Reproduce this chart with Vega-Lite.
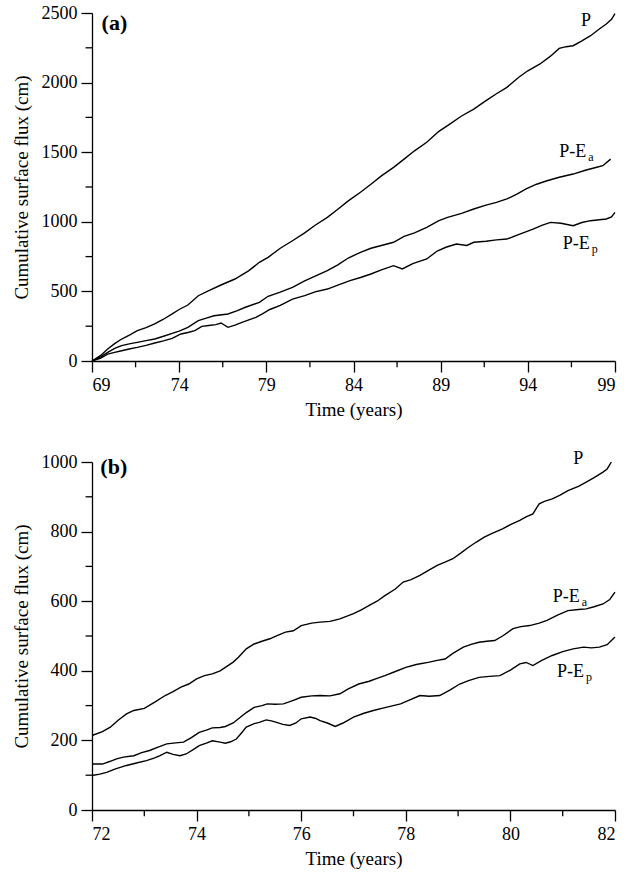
{
  "$schema": "https://vega.github.io/schema/vega-lite/v6.json",
  "padding": {"left": 12, "top": 4, "right": 5, "bottom": 5},
  "background": "white",
  "spacing": 30,
  "config": {
    "font": "Liberation Serif",
    "view": {"stroke": null},
    "axis": {
      "grid": false,
      "domainColor": "black",
      "domainWidth": 1.3,
      "tickColor": "black",
      "tickWidth": 1.3,
      "labelColor": "black",
      "titleColor": "black",
      "labelFont": "Liberation Serif",
      "titleFont": "Liberation Serif",
      "labelFontSize": 18,
      "titleFontSize": 19,
      "titleFontWeight": "normal",
      "labelPadding": 4
    }
  },
  "datasets": {
    "one": [{"k": 1}],
    "minorXa": [{"t": 71.5}, {"t": 76.5}, {"t": 81.5}, {"t": 86.5}, {"t": 91.5}, {"t": 96.5}],
    "minorYa": [{"v": 250}, {"v": 750}, {"v": 1250}, {"v": 1750}, {"v": 2250}],
    "minorXb": [{"t": 73}, {"t": 75}, {"t": 77}, {"t": 79}, {"t": 81}],
    "minorYb": [{"v": 100}, {"v": 300}, {"v": 500}, {"v": 700}, {"v": 900}],
    "a": [
      {"s": "P", "t": 69.0, "v": 0}, {"s": "P", "t": 69.5, "v": 40}, {"s": "P", "t": 69.9, "v": 86}, {"s": "P", "t": 70.3, "v": 125}, {"s": "P", "t": 70.7, "v": 158}, {"s": "P", "t": 71.2, "v": 190}, {"s": "P", "t": 71.6, "v": 218}, {"s": "P", "t": 72.1, "v": 240}, {"s": "P", "t": 72.6, "v": 266}, {"s": "P", "t": 73.1, "v": 300}, {"s": "P", "t": 73.6, "v": 338}, {"s": "P", "t": 74.0, "v": 370}, {"s": "P", "t": 74.5, "v": 402}, {"s": "P", "t": 75.1, "v": 469}, {"s": "P", "t": 75.7, "v": 505}, {"s": "P", "t": 76.4, "v": 546}, {"s": "P", "t": 77.2, "v": 589}, {"s": "P", "t": 78.0, "v": 649}, {"s": "P", "t": 78.6, "v": 709}, {"s": "P", "t": 79.1, "v": 745}, {"s": "P", "t": 79.8, "v": 810}, {"s": "P", "t": 80.5, "v": 864}, {"s": "P", "t": 81.2, "v": 920}, {"s": "P", "t": 81.8, "v": 975}, {"s": "P", "t": 82.5, "v": 1032}, {"s": "P", "t": 83.1, "v": 1090}, {"s": "P", "t": 83.7, "v": 1150}, {"s": "P", "t": 84.4, "v": 1212}, {"s": "P", "t": 85.0, "v": 1270}, {"s": "P", "t": 85.6, "v": 1330}, {"s": "P", "t": 86.3, "v": 1391}, {"s": "P", "t": 86.9, "v": 1450}, {"s": "P", "t": 87.5, "v": 1510}, {"s": "P", "t": 88.2, "v": 1571}, {"s": "P", "t": 88.9, "v": 1650}, {"s": "P", "t": 89.5, "v": 1700}, {"s": "P", "t": 90.2, "v": 1760}, {"s": "P", "t": 90.9, "v": 1810}, {"s": "P", "t": 91.6, "v": 1870}, {"s": "P", "t": 92.2, "v": 1920}, {"s": "P", "t": 92.8, "v": 1966}, {"s": "P", "t": 93.5, "v": 2040}, {"s": "P", "t": 94.0, "v": 2085}, {"s": "P", "t": 94.7, "v": 2134}, {"s": "P", "t": 95.3, "v": 2190}, {"s": "P", "t": 95.8, "v": 2246}, {"s": "P", "t": 96.2, "v": 2258}, {"s": "P", "t": 96.6, "v": 2265}, {"s": "P", "t": 97.1, "v": 2300}, {"s": "P", "t": 97.6, "v": 2337}, {"s": "P", "t": 98.1, "v": 2385}, {"s": "P", "t": 98.5, "v": 2421}, {"s": "P", "t": 98.8, "v": 2455}, {"s": "P", "t": 99.0, "v": 2495},
      {"s": "Ea", "t": 69.0, "v": 0}, {"s": "Ea", "t": 69.5, "v": 30}, {"s": "Ea", "t": 69.9, "v": 62}, {"s": "Ea", "t": 70.3, "v": 90}, {"s": "Ea", "t": 70.7, "v": 110}, {"s": "Ea", "t": 71.2, "v": 125}, {"s": "Ea", "t": 71.6, "v": 134}, {"s": "Ea", "t": 72.1, "v": 146}, {"s": "Ea", "t": 72.6, "v": 158}, {"s": "Ea", "t": 73.1, "v": 178}, {"s": "Ea", "t": 73.6, "v": 199}, {"s": "Ea", "t": 74.0, "v": 215}, {"s": "Ea", "t": 74.5, "v": 242}, {"s": "Ea", "t": 75.1, "v": 290}, {"s": "Ea", "t": 75.6, "v": 310}, {"s": "Ea", "t": 76.0, "v": 325}, {"s": "Ea", "t": 76.8, "v": 338}, {"s": "Ea", "t": 77.3, "v": 360}, {"s": "Ea", "t": 77.8, "v": 386}, {"s": "Ea", "t": 78.6, "v": 421}, {"s": "Ea", "t": 79.1, "v": 465}, {"s": "Ea", "t": 79.8, "v": 495}, {"s": "Ea", "t": 80.5, "v": 529}, {"s": "Ea", "t": 81.2, "v": 575}, {"s": "Ea", "t": 81.8, "v": 610}, {"s": "Ea", "t": 82.5, "v": 649}, {"s": "Ea", "t": 83.1, "v": 690}, {"s": "Ea", "t": 83.7, "v": 740}, {"s": "Ea", "t": 84.4, "v": 781}, {"s": "Ea", "t": 85.0, "v": 810}, {"s": "Ea", "t": 85.6, "v": 830}, {"s": "Ea", "t": 86.3, "v": 853}, {"s": "Ea", "t": 86.9, "v": 895}, {"s": "Ea", "t": 87.5, "v": 920}, {"s": "Ea", "t": 88.2, "v": 960}, {"s": "Ea", "t": 88.9, "v": 1008}, {"s": "Ea", "t": 89.4, "v": 1032}, {"s": "Ea", "t": 90.2, "v": 1060}, {"s": "Ea", "t": 90.9, "v": 1092}, {"s": "Ea", "t": 91.6, "v": 1120}, {"s": "Ea", "t": 92.2, "v": 1140}, {"s": "Ea", "t": 92.8, "v": 1164}, {"s": "Ea", "t": 93.4, "v": 1200}, {"s": "Ea", "t": 93.9, "v": 1236}, {"s": "Ea", "t": 94.5, "v": 1270}, {"s": "Ea", "t": 95.1, "v": 1295}, {"s": "Ea", "t": 95.8, "v": 1320}, {"s": "Ea", "t": 96.6, "v": 1343}, {"s": "Ea", "t": 97.3, "v": 1370}, {"s": "Ea", "t": 97.9, "v": 1390}, {"s": "Ea", "t": 98.3, "v": 1403}, {"s": "Ea", "t": 98.75, "v": 1450},
      {"s": "Ep", "t": 69.0, "v": 0}, {"s": "Ep", "t": 69.5, "v": 20}, {"s": "Ep", "t": 69.9, "v": 50}, {"s": "Ep", "t": 70.3, "v": 62}, {"s": "Ep", "t": 70.7, "v": 74}, {"s": "Ep", "t": 71.2, "v": 88}, {"s": "Ep", "t": 71.6, "v": 98}, {"s": "Ep", "t": 72.1, "v": 112}, {"s": "Ep", "t": 72.6, "v": 129}, {"s": "Ep", "t": 73.1, "v": 145}, {"s": "Ep", "t": 73.6, "v": 163}, {"s": "Ep", "t": 74.1, "v": 194}, {"s": "Ep", "t": 74.5, "v": 205}, {"s": "Ep", "t": 74.9, "v": 218}, {"s": "Ep", "t": 75.3, "v": 249}, {"s": "Ep", "t": 75.7, "v": 255}, {"s": "Ep", "t": 76.1, "v": 261}, {"s": "Ep", "t": 76.4, "v": 273}, {"s": "Ep", "t": 76.8, "v": 242}, {"s": "Ep", "t": 77.2, "v": 258}, {"s": "Ep", "t": 77.6, "v": 278}, {"s": "Ep", "t": 78.0, "v": 296}, {"s": "Ep", "t": 78.4, "v": 314}, {"s": "Ep", "t": 78.8, "v": 340}, {"s": "Ep", "t": 79.2, "v": 370}, {"s": "Ep", "t": 79.8, "v": 400}, {"s": "Ep", "t": 80.5, "v": 445}, {"s": "Ep", "t": 81.2, "v": 470}, {"s": "Ep", "t": 81.8, "v": 497}, {"s": "Ep", "t": 82.5, "v": 517}, {"s": "Ep", "t": 83.1, "v": 545}, {"s": "Ep", "t": 83.8, "v": 577}, {"s": "Ep", "t": 84.4, "v": 600}, {"s": "Ep", "t": 85.0, "v": 625}, {"s": "Ep", "t": 85.6, "v": 655}, {"s": "Ep", "t": 86.3, "v": 685}, {"s": "Ep", "t": 86.8, "v": 661}, {"s": "Ep", "t": 87.4, "v": 700}, {"s": "Ep", "t": 88.2, "v": 733}, {"s": "Ep", "t": 88.8, "v": 790}, {"s": "Ep", "t": 89.3, "v": 817}, {"s": "Ep", "t": 89.9, "v": 840}, {"s": "Ep", "t": 90.5, "v": 830}, {"s": "Ep", "t": 90.9, "v": 853}, {"s": "Ep", "t": 91.6, "v": 860}, {"s": "Ep", "t": 92.2, "v": 870}, {"s": "Ep", "t": 92.8, "v": 876}, {"s": "Ep", "t": 93.5, "v": 910}, {"s": "Ep", "t": 94.3, "v": 948}, {"s": "Ep", "t": 94.8, "v": 975}, {"s": "Ep", "t": 95.3, "v": 996}, {"s": "Ep", "t": 95.9, "v": 990}, {"s": "Ep", "t": 96.6, "v": 972}, {"s": "Ep", "t": 97.1, "v": 995}, {"s": "Ep", "t": 97.6, "v": 1008}, {"s": "Ep", "t": 98.1, "v": 1015}, {"s": "Ep", "t": 98.5, "v": 1020}, {"s": "Ep", "t": 98.8, "v": 1035}, {"s": "Ep", "t": 99.0, "v": 1068}
    ],
    "b": [
      {"s": "P", "t": 72.0, "v": 214}, {"s": "P", "t": 72.2, "v": 225}, {"s": "P", "t": 72.35, "v": 238}, {"s": "P", "t": 72.5, "v": 258}, {"s": "P", "t": 72.66, "v": 276}, {"s": "P", "t": 72.8, "v": 286}, {"s": "P", "t": 73.0, "v": 292}, {"s": "P", "t": 73.2, "v": 310}, {"s": "P", "t": 73.4, "v": 329}, {"s": "P", "t": 73.55, "v": 340}, {"s": "P", "t": 73.7, "v": 353}, {"s": "P", "t": 73.85, "v": 362}, {"s": "P", "t": 74.0, "v": 377}, {"s": "P", "t": 74.15, "v": 386}, {"s": "P", "t": 74.3, "v": 391}, {"s": "P", "t": 74.45, "v": 400}, {"s": "P", "t": 74.55, "v": 410}, {"s": "P", "t": 74.7, "v": 425}, {"s": "P", "t": 74.8, "v": 439}, {"s": "P", "t": 74.95, "v": 463}, {"s": "P", "t": 75.1, "v": 477}, {"s": "P", "t": 75.25, "v": 485}, {"s": "P", "t": 75.4, "v": 492}, {"s": "P", "t": 75.55, "v": 502}, {"s": "P", "t": 75.7, "v": 511}, {"s": "P", "t": 75.85, "v": 515}, {"s": "P", "t": 76.0, "v": 530}, {"s": "P", "t": 76.2, "v": 537}, {"s": "P", "t": 76.36, "v": 540}, {"s": "P", "t": 76.55, "v": 542}, {"s": "P", "t": 76.74, "v": 549}, {"s": "P", "t": 77.0, "v": 564}, {"s": "P", "t": 77.15, "v": 575}, {"s": "P", "t": 77.3, "v": 588}, {"s": "P", "t": 77.45, "v": 600}, {"s": "P", "t": 77.6, "v": 616}, {"s": "P", "t": 77.8, "v": 635}, {"s": "P", "t": 77.95, "v": 655}, {"s": "P", "t": 78.1, "v": 662}, {"s": "P", "t": 78.27, "v": 674}, {"s": "P", "t": 78.45, "v": 690}, {"s": "P", "t": 78.6, "v": 703}, {"s": "P", "t": 78.75, "v": 712}, {"s": "P", "t": 78.9, "v": 722}, {"s": "P", "t": 79.05, "v": 738}, {"s": "P", "t": 79.2, "v": 755}, {"s": "P", "t": 79.35, "v": 770}, {"s": "P", "t": 79.5, "v": 784}, {"s": "P", "t": 79.65, "v": 795}, {"s": "P", "t": 79.85, "v": 808}, {"s": "P", "t": 80.0, "v": 820}, {"s": "P", "t": 80.18, "v": 832}, {"s": "P", "t": 80.3, "v": 842}, {"s": "P", "t": 80.43, "v": 851}, {"s": "P", "t": 80.55, "v": 880}, {"s": "P", "t": 80.65, "v": 887}, {"s": "P", "t": 80.8, "v": 894}, {"s": "P", "t": 80.95, "v": 905}, {"s": "P", "t": 81.1, "v": 918}, {"s": "P", "t": 81.3, "v": 930}, {"s": "P", "t": 81.45, "v": 942}, {"s": "P", "t": 81.6, "v": 955}, {"s": "P", "t": 81.77, "v": 971}, {"s": "P", "t": 81.85, "v": 980}, {"s": "P", "t": 81.93, "v": 1000},
      {"s": "Ea", "t": 72.0, "v": 132}, {"s": "Ea", "t": 72.2, "v": 132}, {"s": "Ea", "t": 72.35, "v": 140}, {"s": "Ea", "t": 72.47, "v": 147}, {"s": "Ea", "t": 72.6, "v": 152}, {"s": "Ea", "t": 72.8, "v": 156}, {"s": "Ea", "t": 72.95, "v": 165}, {"s": "Ea", "t": 73.1, "v": 171}, {"s": "Ea", "t": 73.25, "v": 180}, {"s": "Ea", "t": 73.43, "v": 190}, {"s": "Ea", "t": 73.6, "v": 193}, {"s": "Ea", "t": 73.75, "v": 195}, {"s": "Ea", "t": 73.9, "v": 208}, {"s": "Ea", "t": 74.05, "v": 223}, {"s": "Ea", "t": 74.2, "v": 230}, {"s": "Ea", "t": 74.3, "v": 236}, {"s": "Ea", "t": 74.45, "v": 237}, {"s": "Ea", "t": 74.55, "v": 240}, {"s": "Ea", "t": 74.7, "v": 250}, {"s": "Ea", "t": 74.8, "v": 262}, {"s": "Ea", "t": 74.95, "v": 280}, {"s": "Ea", "t": 75.1, "v": 295}, {"s": "Ea", "t": 75.25, "v": 300}, {"s": "Ea", "t": 75.35, "v": 305}, {"s": "Ea", "t": 75.5, "v": 304}, {"s": "Ea", "t": 75.66, "v": 305}, {"s": "Ea", "t": 75.85, "v": 315}, {"s": "Ea", "t": 76.0, "v": 324}, {"s": "Ea", "t": 76.2, "v": 328}, {"s": "Ea", "t": 76.36, "v": 329}, {"s": "Ea", "t": 76.55, "v": 328}, {"s": "Ea", "t": 76.74, "v": 334}, {"s": "Ea", "t": 76.9, "v": 348}, {"s": "Ea", "t": 77.1, "v": 362}, {"s": "Ea", "t": 77.3, "v": 370}, {"s": "Ea", "t": 77.45, "v": 378}, {"s": "Ea", "t": 77.6, "v": 386}, {"s": "Ea", "t": 77.8, "v": 398}, {"s": "Ea", "t": 78.0, "v": 410}, {"s": "Ea", "t": 78.2, "v": 418}, {"s": "Ea", "t": 78.45, "v": 425}, {"s": "Ea", "t": 78.6, "v": 430}, {"s": "Ea", "t": 78.75, "v": 434}, {"s": "Ea", "t": 78.9, "v": 450}, {"s": "Ea", "t": 79.1, "v": 468}, {"s": "Ea", "t": 79.25, "v": 476}, {"s": "Ea", "t": 79.4, "v": 482}, {"s": "Ea", "t": 79.55, "v": 485}, {"s": "Ea", "t": 79.7, "v": 487}, {"s": "Ea", "t": 79.85, "v": 500}, {"s": "Ea", "t": 80.05, "v": 521}, {"s": "Ea", "t": 80.2, "v": 527}, {"s": "Ea", "t": 80.37, "v": 530}, {"s": "Ea", "t": 80.55, "v": 537}, {"s": "Ea", "t": 80.7, "v": 545}, {"s": "Ea", "t": 80.9, "v": 560}, {"s": "Ea", "t": 81.1, "v": 573}, {"s": "Ea", "t": 81.3, "v": 576}, {"s": "Ea", "t": 81.45, "v": 578}, {"s": "Ea", "t": 81.6, "v": 584}, {"s": "Ea", "t": 81.77, "v": 592}, {"s": "Ea", "t": 81.9, "v": 605}, {"s": "Ea", "t": 82.0, "v": 626},
      {"s": "Ep", "t": 72.0, "v": 99}, {"s": "Ep", "t": 72.15, "v": 103}, {"s": "Ep", "t": 72.28, "v": 108}, {"s": "Ep", "t": 72.45, "v": 118}, {"s": "Ep", "t": 72.66, "v": 128}, {"s": "Ep", "t": 72.85, "v": 135}, {"s": "Ep", "t": 73.04, "v": 142}, {"s": "Ep", "t": 73.2, "v": 150}, {"s": "Ep", "t": 73.3, "v": 156}, {"s": "Ep", "t": 73.43, "v": 166}, {"s": "Ep", "t": 73.55, "v": 160}, {"s": "Ep", "t": 73.68, "v": 156}, {"s": "Ep", "t": 73.8, "v": 161}, {"s": "Ep", "t": 73.95, "v": 175}, {"s": "Ep", "t": 74.05, "v": 185}, {"s": "Ep", "t": 74.2, "v": 193}, {"s": "Ep", "t": 74.3, "v": 199}, {"s": "Ep", "t": 74.45, "v": 195}, {"s": "Ep", "t": 74.55, "v": 192}, {"s": "Ep", "t": 74.65, "v": 196}, {"s": "Ep", "t": 74.76, "v": 204}, {"s": "Ep", "t": 74.85, "v": 220}, {"s": "Ep", "t": 74.95, "v": 238}, {"s": "Ep", "t": 75.1, "v": 248}, {"s": "Ep", "t": 75.2, "v": 252}, {"s": "Ep", "t": 75.33, "v": 259}, {"s": "Ep", "t": 75.43, "v": 256}, {"s": "Ep", "t": 75.53, "v": 252}, {"s": "Ep", "t": 75.65, "v": 246}, {"s": "Ep", "t": 75.78, "v": 243}, {"s": "Ep", "t": 75.9, "v": 250}, {"s": "Ep", "t": 76.0, "v": 262}, {"s": "Ep", "t": 76.17, "v": 267}, {"s": "Ep", "t": 76.28, "v": 263}, {"s": "Ep", "t": 76.36, "v": 257}, {"s": "Ep", "t": 76.5, "v": 250}, {"s": "Ep", "t": 76.65, "v": 240}, {"s": "Ep", "t": 76.8, "v": 250}, {"s": "Ep", "t": 77.0, "v": 267}, {"s": "Ep", "t": 77.2, "v": 278}, {"s": "Ep", "t": 77.38, "v": 286}, {"s": "Ep", "t": 77.6, "v": 294}, {"s": "Ep", "t": 77.9, "v": 305}, {"s": "Ep", "t": 78.1, "v": 318}, {"s": "Ep", "t": 78.27, "v": 329}, {"s": "Ep", "t": 78.45, "v": 327}, {"s": "Ep", "t": 78.65, "v": 329}, {"s": "Ep", "t": 78.85, "v": 345}, {"s": "Ep", "t": 79.03, "v": 362}, {"s": "Ep", "t": 79.2, "v": 372}, {"s": "Ep", "t": 79.4, "v": 381}, {"s": "Ep", "t": 79.6, "v": 384}, {"s": "Ep", "t": 79.8, "v": 386}, {"s": "Ep", "t": 80.0, "v": 402}, {"s": "Ep", "t": 80.18, "v": 420}, {"s": "Ep", "t": 80.3, "v": 424}, {"s": "Ep", "t": 80.43, "v": 415}, {"s": "Ep", "t": 80.6, "v": 430}, {"s": "Ep", "t": 80.8, "v": 444}, {"s": "Ep", "t": 81.0, "v": 455}, {"s": "Ep", "t": 81.2, "v": 463}, {"s": "Ep", "t": 81.4, "v": 468}, {"s": "Ep", "t": 81.55, "v": 466}, {"s": "Ep", "t": 81.7, "v": 468}, {"s": "Ep", "t": 81.85, "v": 475}, {"s": "Ep", "t": 82.0, "v": 497}
    ]
  },
  "vconcat": [
    {
      "width": 523,
      "height": 348,
      "layer": [
        {
          "data": {"name": "a"},
          "mark": {"type": "line", "color": "black", "strokeWidth": 1.4},
          "encoding": {
            "x": {"field": "t", "type": "quantitative", "scale": {"domain": [69, 99], "nice": false, "zero": false},
                  "axis": {"values": [69, 74, 79, 84, 89, 94, 99], "tickSize": 11, "title": "Time (years)", "titlePadding": 6, "format": "d"}},
            "y": {"field": "v", "type": "quantitative", "scale": {"domain": [0, 2500], "nice": false},
                  "axis": {"values": [0, 500, 1000, 1500, 2000, 2500], "tickSize": 11, "title": "Cumulative surface flux (cm)", "titlePadding": 10, "format": "d"}},
            "detail": {"field": "s"}
          }
        },
        {
          "data": {"name": "minorXa"},
          "mark": {"type": "rule", "color": "black", "strokeWidth": 1.3},
          "encoding": {
            "x": {"field": "t", "type": "quantitative"},
            "y": {"datum": 0, "type": "quantitative"},
            "y2": {"datum": -45}
          }
        },
        {
          "data": {"name": "minorYa"},
          "mark": {"type": "rule", "color": "black", "strokeWidth": 1.3},
          "encoding": {
            "y": {"field": "v", "type": "quantitative"},
            "x": {"datum": 69, "type": "quantitative"},
            "x2": {"datum": 68.63}
          }
        },
        {
          "data": {"name": "one"},
          "mark": {"type": "text", "fontSize": 22, "fontWeight": "bold", "align": "left", "baseline": "middle"},
          "encoding": {
            "x": {"datum": 69.55, "type": "quantitative"},
            "y": {"datum": 2425, "type": "quantitative"},
            "text": {"value": "(a)"}
          }
        },
        {
          "data": {"name": "one"},
          "mark": {"type": "text", "fontSize": 18, "align": "left", "baseline": "middle"},
          "encoding": {
            "x": {"datum": 97.05, "type": "quantitative"},
            "y": {"datum": 2440, "type": "quantitative"},
            "text": {"value": "P"}
          }
        },
        {
          "data": {"name": "one"},
          "mark": {"type": "text", "fontSize": 18, "align": "left", "baseline": "middle"},
          "encoding": {
            "x": {"datum": 95.8, "type": "quantitative"},
            "y": {"datum": 1500, "type": "quantitative"},
            "text": {"value": "P-E"}
          }
        },
        {
          "data": {"name": "one"},
          "mark": {"type": "text", "fontSize": 12, "align": "left", "baseline": "middle", "dx": 29, "dy": 5},
          "encoding": {
            "x": {"datum": 95.8, "type": "quantitative"},
            "y": {"datum": 1500, "type": "quantitative"},
            "text": {"value": "a"}
          }
        },
        {
          "data": {"name": "one"},
          "mark": {"type": "text", "fontSize": 18, "align": "left", "baseline": "middle"},
          "encoding": {
            "x": {"datum": 96.0, "type": "quantitative"},
            "y": {"datum": 842, "type": "quantitative"},
            "text": {"value": "P-E"}
          }
        },
        {
          "data": {"name": "one"},
          "mark": {"type": "text", "fontSize": 12, "align": "left", "baseline": "middle", "dx": 29, "dy": 5},
          "encoding": {
            "x": {"datum": 96.0, "type": "quantitative"},
            "y": {"datum": 842, "type": "quantitative"},
            "text": {"value": "p"}
          }
        }
      ]
    },
    {
      "width": 523,
      "height": 348,
      "layer": [
        {
          "data": {"name": "b"},
          "mark": {"type": "line", "color": "black", "strokeWidth": 1.4},
          "encoding": {
            "x": {"field": "t", "type": "quantitative", "scale": {"domain": [72, 82], "nice": false, "zero": false},
                  "axis": {"values": [72, 74, 76, 78, 80, 82], "tickSize": 11, "title": "Time (years)", "titlePadding": 6, "format": "d"}},
            "y": {"field": "v", "type": "quantitative", "scale": {"domain": [0, 1000], "nice": false},
                  "axis": {"values": [0, 200, 400, 600, 800, 1000], "tickSize": 11, "title": "Cumulative surface flux (cm)", "titlePadding": 10, "format": "d"}},
            "detail": {"field": "s"}
          }
        },
        {
          "data": {"name": "minorXb"},
          "mark": {"type": "rule", "color": "black", "strokeWidth": 1.3},
          "encoding": {
            "x": {"field": "t", "type": "quantitative"},
            "y": {"datum": 0, "type": "quantitative"},
            "y2": {"datum": -18}
          }
        },
        {
          "data": {"name": "minorYb"},
          "mark": {"type": "rule", "color": "black", "strokeWidth": 1.3},
          "encoding": {
            "y": {"field": "v", "type": "quantitative"},
            "x": {"datum": 72, "type": "quantitative"},
            "x2": {"datum": 71.877}
          }
        },
        {
          "data": {"name": "one"},
          "mark": {"type": "text", "fontSize": 22, "fontWeight": "bold", "align": "left", "baseline": "middle"},
          "encoding": {
            "x": {"datum": 72.16, "type": "quantitative"},
            "y": {"datum": 985, "type": "quantitative"},
            "text": {"value": "(b)"}
          }
        },
        {
          "data": {"name": "one"},
          "mark": {"type": "text", "fontSize": 18, "align": "left", "baseline": "middle"},
          "encoding": {
            "x": {"datum": 81.2, "type": "quantitative"},
            "y": {"datum": 1010, "type": "quantitative"},
            "text": {"value": "P"}
          }
        },
        {
          "data": {"name": "one"},
          "mark": {"type": "text", "fontSize": 18, "align": "left", "baseline": "middle"},
          "encoding": {
            "x": {"datum": 80.81, "type": "quantitative"},
            "y": {"datum": 612, "type": "quantitative"},
            "text": {"value": "P-E"}
          }
        },
        {
          "data": {"name": "one"},
          "mark": {"type": "text", "fontSize": 12, "align": "left", "baseline": "middle", "dx": 29, "dy": 5},
          "encoding": {
            "x": {"datum": 80.81, "type": "quantitative"},
            "y": {"datum": 612, "type": "quantitative"},
            "text": {"value": "a"}
          }
        },
        {
          "data": {"name": "one"},
          "mark": {"type": "text", "fontSize": 18, "align": "left", "baseline": "middle"},
          "encoding": {
            "x": {"datum": 80.89, "type": "quantitative"},
            "y": {"datum": 396, "type": "quantitative"},
            "text": {"value": "P-E"}
          }
        },
        {
          "data": {"name": "one"},
          "mark": {"type": "text", "fontSize": 12, "align": "left", "baseline": "middle", "dx": 29, "dy": 5},
          "encoding": {
            "x": {"datum": 80.89, "type": "quantitative"},
            "y": {"datum": 396, "type": "quantitative"},
            "text": {"value": "p"}
          }
        }
      ]
    }
  ]
}
